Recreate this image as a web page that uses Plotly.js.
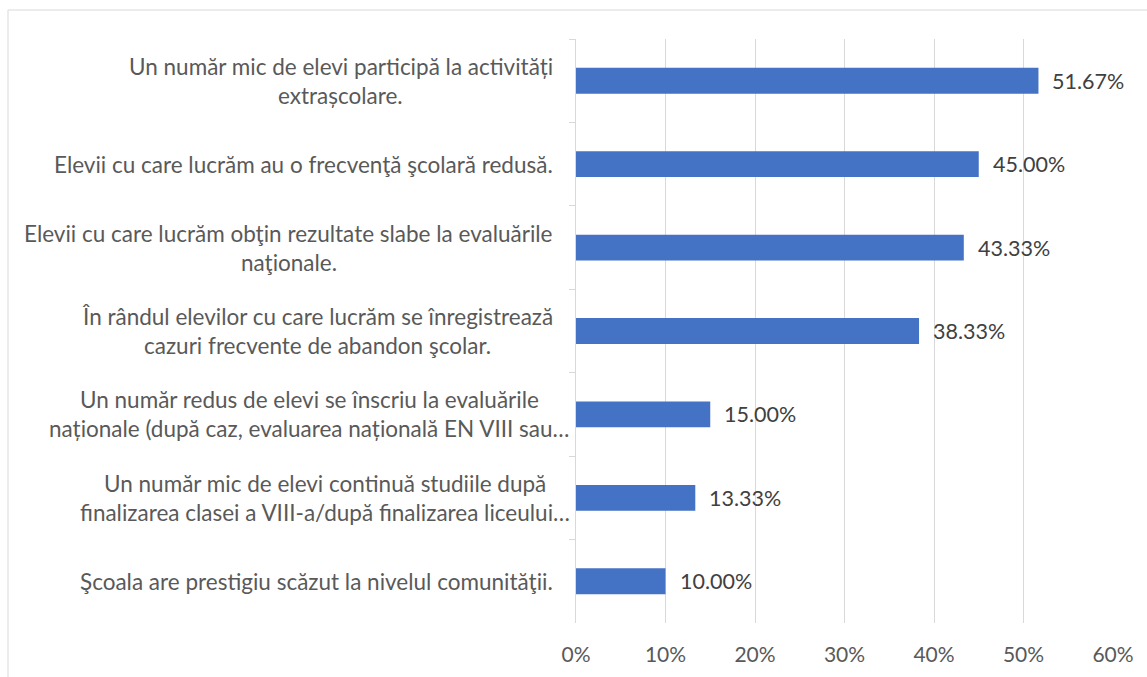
<!DOCTYPE html>
<html>
<head>
<meta charset="utf-8">
<script src="https://cdn.plot.ly/plotly-3.0.1.min.js"></script>
<style>html,body{margin:0;padding:0;background:#fff;}#chart{width:1147px;height:677px;}</style>
</head>
<body>
<div id="chart"></div>
<script>
// ---- data ----
const categories = [
  "Un număr mic de elevi participă la activități<br>extrașcolare.",
  "Elevii cu care lucrăm au o frecvenţă şcolară redusă.",
  "Elevii cu care lucrăm obţin rezultate slabe la evaluările<br>naţionale.",
  "În rândul elevilor cu care lucrăm se înregistrează<br>cazuri frecvente de abandon şcolar.",
  "Un număr redus de elevi se înscriu la evaluările<br>naționale (după caz, evaluarea națională EN VIII sau…",
  "Un număr mic de elevi continuă studiile după<br>finalizarea clasei a VIII-a/după finalizarea liceului…",
  "Şcoala are prestigiu scăzut la nivelul comunităţii."
];
const values = [0.5167, 0.45, 0.4333, 0.3833, 0.15, 0.1333, 0.10];
const valueLabels = ["51.67%", "45.00%", "43.33%", "38.33%", "15.00%", "13.33%", "10.00%"];
const xTickVals = [0, 0.1, 0.2, 0.3, 0.4, 0.5, 0.6];
const xTickText = ["0%", "10%", "20%", "30%", "40%", "50%", "60%"];

// ---- layout geometry ----
const W = 1147, H = 677;
const M = {l: 576, r: 34, t: 39, b: 54, pad: 0};
const plotW = W - M.l - M.r, plotH = H - M.t - M.b;
const pxX = px => (px - M.l) / plotW;
const pxY = py => 1 - (py - M.t) / plotH;

const FONT = "Lato, 'Open Sans', sans-serif";
const labelSize = 22.5;
const ctx = document.createElement('canvas').getContext('2d');
ctx.font = labelSize + "px Lato";

const annotations = [];
const lineGap = 29;
categories.forEach((cat, i) => {
  const lines = cat.split("<br>");
  const truncated = cat.endsWith("…");
  const right = truncated ? 570 : 553;
  const maxW = Math.max(...lines.map(s => ctx.measureText(s).width));
  const center = right - maxW / 2;
  lines.forEach((ln, j) => {
    const off = (j - (lines.length - 1) / 2) * lineGap;
    annotations.push({
      xref: 'paper', yref: 'y', x: pxX(center), y: cat, xanchor: 'center', yanchor: 'middle',
      yshift: -off, text: ln, showarrow: false,
      font: {family: FONT, size: labelSize, color: '#595959'}
    });
  });
  annotations.push({
    xref: 'x', yref: 'y', x: values[i], y: cat, xanchor: 'left', yanchor: 'middle', xshift: 12,
    text: valueLabels[i], showarrow: false,
    font: {family: FONT, size: 21.5, color: '#404040'}
  });
});

const trace = {
  type: 'bar', orientation: 'h', y: categories, x: values,
  marker: {color: '#4472C4', line: {width: 0}},
  width: 0.31, hoverinfo: 'skip'
};

const layout = {
  width: W, height: H, margin: M,
  paper_bgcolor: '#ffffff', plot_bgcolor: '#ffffff',
  showlegend: false,
  xaxis: {
    range: [0, 0.6], tickvals: xTickVals, ticktext: xTickText,
    showgrid: true, gridcolor: '#d9d9d9', gridwidth: 1, zeroline: false, showline: false,
    ticks: '', ticklabelstandoff: 17,
    tickfont: {family: FONT, size: 21, color: '#595959'}, fixedrange: true
  },
  yaxis: {
    type: 'category', categoryorder: 'array', categoryarray: categories, autorange: 'reversed',
    showticklabels: false, showgrid: false, zeroline: false,
    showline: true, linecolor: '#d9d9d9', linewidth: 1,
    ticks: 'outside', tickson: 'boundaries', ticklen: 6, tickcolor: '#d9d9d9', tickwidth: 1,
    fixedrange: true
  },
  shapes: [{
    type: 'rect', xref: 'paper', yref: 'paper', layer: 'below',
    x0: pxX(8), x1: pxX(1160), y0: pxY(10), y1: pxY(700),
    line: {color: '#d9d9d9', width: 1}, fillcolor: 'rgba(0,0,0,0)'
  }],
  annotations: annotations
};

Plotly.newPlot('chart', [trace], layout, {displayModeBar: false, staticPlot: true});
</script>
</body>
</html>
